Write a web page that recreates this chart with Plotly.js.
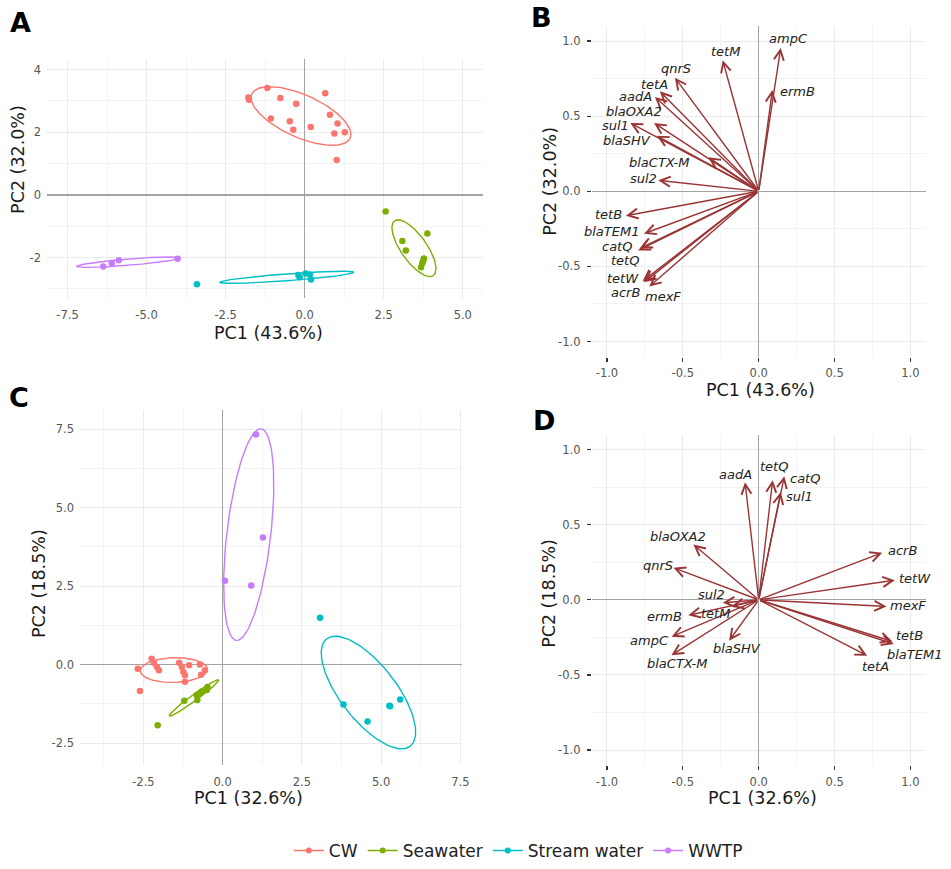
<!DOCTYPE html>
<html><head><meta charset="utf-8">
<script src="https://cdn.plot.ly/plotly-3.0.1.min.js"></script>
<style>html,body{margin:0;padding:0;background:#fff}#chart{width:951px;height:869px}</style>
</head><body><div id="chart"></div>
<script>
// ---------------- data ----------------
const GROUPS = ['CW', 'Seawater', 'Stream water', 'WWTP'];
const GROUP_COLORS = ['#F8766D', '#7CAE00', '#00BFC4', '#C77CFF'];
const ELLIPSE_LEVEL = 0.68;

// Panel A: sample scores (PC1 43.6%, PC2 32.0%)
const A_CW_pc1 = [-1.78, -1.76, -1.18, -0.77, -0.27, 0.65, -1.07, -0.47, -0.36, 0.19, 0.80, 1.04, 0.94, 1.27, 1.01];
const A_CW_pc2 = [3.11, 3.04, 3.41, 3.09, 2.91, 3.24, 2.44, 2.35, 2.08, 2.17, 2.56, 2.28, 1.96, 2.00, 1.11];
const A_Sea_pc1 = [2.56, 3.88, 3.09, 3.20, 3.77, 3.75, 3.72, 3.68];
const A_Sea_pc2 = [-0.53, -1.23, -1.47, -1.78, -2.03, -2.10, -2.18, -2.31];
const A_Stream_pc1 = [-3.41, -0.20, -0.16, 0.03, 0.16, 0.20];
const A_Stream_pc2 = [-2.85, -2.56, -2.63, -2.51, -2.54, -2.70];
const A_WWTP_pc1 = [-6.37, -6.10, -5.88, -4.02];
const A_WWTP_pc2 = [-2.29, -2.18, -2.09, -2.04];

// Panel C: sample scores (PC1 32.6%, PC2 18.5%)
const C_CW_pc1 = [-2.68, -2.24, -2.17, -2.08, -2.01, -2.61, -1.37, -1.29, -1.24, -1.19, -1.19, -1.06, -0.72, -0.56, -0.68];
const C_CW_pc2 = [-0.13, 0.19, 0.06, -0.07, -0.18, -0.84, 0.06, -0.07, -0.23, -0.34, -0.55, -0.02, 0.00, -0.18, -0.32];
const C_Sea_pc1 = [-1.21, -2.05, -0.82, -0.80, -0.66, -0.50, -0.48, -0.72];
const C_Sea_pc2 = [-1.15, -1.93, -0.97, -1.13, -0.86, -0.81, -0.71, -0.92];
const C_Stream_pc1 = [3.07, 3.81, 4.57, 5.26, 5.28, 5.60];
const C_Stream_pc2 = [1.49, -1.27, -1.81, -1.31, -1.33, -1.11];
const C_WWTP_pc1 = [0.07, 0.90, 1.27, 1.05];
const C_WWTP_pc2 = [2.67, 2.52, 4.05, 7.33];

// Gene loadings
const GENES = ['ampC', 'ermB', 'tetM', 'qnrS', 'tetA', 'aadA', 'blaOXA2', 'sul1', 'blaSHV',
  'blaCTX-M', 'sul2', 'tetB', 'blaTEM1', 'catQ', 'tetQ', 'tetW', 'acrB', 'mexF'];
const B_pc1 = [0.145, 0.090, -0.237, -0.552, -0.651, -0.684, -0.690, -0.846, -0.672,
  -0.332, -0.662, -0.875, -0.756, -0.782, -0.794, -0.765, -0.756, -0.721];
const B_pc2 = [0.954, 0.674, 0.872, 0.756, 0.665, 0.628, 0.455, 0.455, 0.370,
  0.227, 0.073, -0.163, -0.282, -0.379, -0.394, -0.599, -0.606, -0.634];
const B_labelX = [0.195, 0.257, -0.218, -0.545, -0.690, -0.815, -0.820, -0.947, -0.866,
  -0.655, -0.761, -0.991, -0.969, -0.932, -0.881, -0.892, -0.875, -0.633];
const B_labelY = [1.020, 0.661, 0.928, 0.816, 0.714, 0.633, 0.532, 0.438, 0.337,
  0.194, 0.084, -0.154, -0.268, -0.365, -0.458, -0.578, -0.676, -0.700];

const D_pc1 = [-0.574, -0.464, -0.178, -0.562, 0.715, -0.090, -0.430, 0.145, -0.195,
  -0.575, -0.237, 0.882, 0.890, 0.169, 0.092, 0.897, 0.814, 0.842];
const D_pc2 = [-0.245, -0.103, -0.045, 0.213, -0.372, 0.783, 0.369, 0.717, -0.272,
  -0.369, -0.020, -0.277, -0.294, 0.823, 0.796, 0.131, 0.314, -0.044];
const D_labelX = [-0.723, -0.622, -0.288, -0.662, 0.768, -0.152, -0.534, 0.272, -0.141,
  -0.541, -0.314, 0.997, 1.030, 0.305, 0.103, 1.030, 0.947, 0.986];
const D_labelY = [-0.271, -0.110, -0.088, 0.229, -0.445, 0.837, 0.423, 0.687, -0.326,
  -0.425, 0.036, -0.240, -0.361, 0.808, 0.890, 0.141, 0.330, -0.040];

// Tick labels
const A_xTicks = [-7.5, -5, -2.5, 0, 2.5, 5];
const A_xTickText = ['-7.5', '-5.0', '-2.5', '0.0', '2.5', '5.0'];
const A_yTicks = [-2, 0, 2, 4];
const A_yTickText = ['-2', '0', '2', '4'];
const C_xTicks = [-2.5, 0, 2.5, 5, 7.5];
const C_xTickText = ['-2.5', '0.0', '2.5', '5.0', '7.5'];
const C_yTicks = [-2.5, 0, 2.5, 5, 7.5];
const C_yTickText = ['-2.5', '0.0', '2.5', '5.0', '7.5'];
const BD_ticks = [-1, -0.5, 0, 0.5, 1];
const BD_tickText = ['-1.0', '-0.5', '0.0', '0.5', '1.0'];

// ---------------- helpers ----------------
const W = 951, H = 869;
const fx = p => p / W;
const fy = p => 1 - p / H;
const FONT = 'DejaVu Sans, Verdana, sans-serif';
const ARROW_COLOR = '#9A3434';

function ellipsePath(xs, ys, level) {
  const n = xs.length;
  const mx = xs.reduce((a, b) => a + b, 0) / n;
  const my = ys.reduce((a, b) => a + b, 0) / n;
  let sxx = 0, syy = 0, sxy = 0;
  for (let i = 0; i < n; i++) {
    sxx += (xs[i] - mx) ** 2; syy += (ys[i] - my) ** 2; sxy += (xs[i] - mx) * (ys[i] - my);
  }
  sxx /= (n - 1); syy /= (n - 1); sxy /= (n - 1);
  const tr = sxx + syy, det = sxx * syy - sxy * sxy;
  const disc = Math.sqrt(Math.max(tr * tr / 4 - det, 0));
  const l1 = tr / 2 + disc, l2 = Math.max(tr / 2 - disc, 0);
  const th = 0.5 * Math.atan2(2 * sxy, sxx - syy);
  const k = Math.sqrt(-2 * Math.log(1 - level));
  const ex = [], ey = [];
  for (let i = 0; i <= 120; i++) {
    const t = 2 * Math.PI * i / 120;
    const u = k * Math.sqrt(l1) * Math.cos(t), v = k * Math.sqrt(l2) * Math.sin(t);
    ex.push(mx + u * Math.cos(th) - v * Math.sin(th));
    ey.push(my + u * Math.sin(th) + v * Math.cos(th));
  }
  return [ex, ey];
}

function minorFrom(ticks, range) {
  const step = ticks[1] - ticks[0];
  const out = [];
  for (let v = ticks[0] - step / 2; v <= range[1]; v += step) if (v >= range[0]) out.push(v);
  return out;
}

const traces = [];
function scorePanel(xa, ya, xsList, ysList) {
  for (let g = 0; g < GROUPS.length; g++) {
    const [ex, ey] = ellipsePath(xsList[g], ysList[g], ELLIPSE_LEVEL);
    traces.push({ type: 'scatter', mode: 'lines', x: ex, y: ey, xaxis: xa, yaxis: ya,
      line: { color: GROUP_COLORS[g], width: 1.4 }, showlegend: false, hoverinfo: 'skip' });
  }
  for (let g = 0; g < GROUPS.length; g++) {
    traces.push({ type: 'scatter', mode: 'markers', x: xsList[g], y: ysList[g], xaxis: xa, yaxis: ya,
      name: GROUPS[g], marker: { color: GROUP_COLORS[g], size: 6.5 }, showlegend: false });
  }
}
scorePanel('x', 'y', [A_CW_pc1, A_Sea_pc1, A_Stream_pc1, A_WWTP_pc1], [A_CW_pc2, A_Sea_pc2, A_Stream_pc2, A_WWTP_pc2]);
scorePanel('x3', 'y3', [C_CW_pc1, C_Sea_pc1, C_Stream_pc1, C_WWTP_pc1], [C_CW_pc2, C_Sea_pc2, C_Stream_pc2, C_WWTP_pc2]);

// legend entries
for (let g = 0; g < GROUPS.length; g++) {
  traces.push({ type: 'scatter', mode: 'lines+markers', x: [null], y: [null], xaxis: 'x', yaxis: 'y',
    name: GROUPS[g], line: { color: GROUP_COLORS[g], width: 1.4 }, marker: { color: GROUP_COLORS[g], size: 6 },
    showlegend: true });
}

const annotations = [];
function loadingPanel(xa, ya, pc1, pc2, lx, ly) {
  for (let i = 0; i < GENES.length; i++) {
    annotations.push({ xref: xa, yref: ya, axref: xa, ayref: ya, x: pc1[i], y: pc2[i], ax: 0, ay: 0,
      text: '', font: { size: 1 }, showarrow: true, arrowhead: 5, arrowsize: 1.4, arrowwidth: 1.4,
      arrowcolor: ARROW_COLOR, standoff: 0, startstandoff: 0 });
  }
  for (let i = 0; i < GENES.length; i++) {
    annotations.push({ xref: xa, yref: ya, x: lx[i], y: ly[i], text: '<i>' + GENES[i] + '</i>',
      showarrow: false, font: { family: FONT, size: 13, color: '#222222' } });
  }
}
loadingPanel('x2', 'y2', B_pc1, B_pc2, B_labelX, B_labelY);
loadingPanel('x4', 'y4', D_pc1, D_pc2, D_labelX, D_labelY);

function paperText(text, xpx, ypx, size, angle, bold) {
  annotations.push({ xref: 'paper', yref: 'paper', x: fx(xpx), y: fy(ypx), xanchor: 'center', yanchor: 'middle',
    text: bold ? '<b>' + text + '</b>' : text, textangle: angle || 0, showarrow: false,
    font: { family: FONT, size: size, color: bold ? '#000' : '#1a1a1a' } });
}
paperText('A', 20, 23, 27, 0, true);
paperText('B', 541, 18, 27, 0, true);
paperText('C', 19, 400, 27, 0, true);
paperText('D', 544, 423, 27, 0, true);
paperText('PC1 (43.6%)', 268, 335, 17.5);
paperText('PC2 (32.0%)', 18, 161, 17.5, -90);
paperText('PC1 (43.6%)', 760, 393, 17.5);
paperText('PC2 (32.0%)', 550, 183, 17.5, -90);
paperText('PC1 (32.6%)', 249, 804, 17.5);
paperText('PC2 (18.5%)', 39, 588, 17.5, -90);
paperText('PC1 (32.6%)', 762, 804, 17.5);
paperText('PC2 (18.5%)', 549, 598, 17.5, -90);

const TICKFONT = { family: FONT, size: 11.5, color: '#555555' };
function axis(domain, range, tickvals, ticktext, withTicks, standoff) {
  return {
    domain: domain, range: range, tickmode: 'array', tickvals: tickvals, ticktext: ticktext,
    showgrid: true, gridcolor: '#EBEBEB', gridwidth: 1,
    zeroline: true, zerolinecolor: '#A3A3A3', zerolinewidth: 1.3, showline: false,
    ticks: withTicks ? 'outside' : '', ticklen: 4, tickwidth: 1.3, tickcolor: '#333333',
    tickfont: TICKFONT, ticklabelstandoff: standoff,
    minor: { tickmode: 'array', tickvals: minorFrom(tickvals, range), showgrid: true, gridcolor: '#F3F3F3', gridwidth: 1, ticks: '' },
    fixedrange: true, automargin: false
  };
}
const A_xr = [-8.15, 5.64], A_yr = [-3.29, 4.35];
const C_xr = [-4.5, 7.54], C_yr = [-3.19, 8.11];
const BD_r = [-1.1, 1.1];

const layout = {
  width: W, height: H, margin: { l: 0, r: 0, t: 0, b: 0 },
  paper_bgcolor: '#fff', plot_bgcolor: 'rgba(0,0,0,0)',
  font: { family: FONT },
  xaxis: Object.assign(axis([fx(47), fx(483)], A_xr, A_xTicks, A_xTickText, false, 9), { anchor: 'y' }),
  yaxis: Object.assign(axis([fy(300), fy(59)], A_yr, A_yTicks, A_yTickText, false, 5), { anchor: 'x' }),
  xaxis2: Object.assign(axis([fx(591.8), fx(925.6)], BD_r, BD_ticks, BD_tickText, true, 2), { anchor: 'y2' }),
  yaxis2: Object.assign(axis([fy(359), fy(26.2)], BD_r, BD_ticks, BD_tickText, true, 4), { anchor: 'x2' }),
  xaxis3: Object.assign(axis([fx(80), fx(461.7)], C_xr, C_xTicks, C_xTickText, false, 9), { anchor: 'y3' }),
  yaxis3: Object.assign(axis([fy(770), fy(413)], C_yr, C_yTicks, C_yTickText, false, 5), { anchor: 'x3' }),
  xaxis4: Object.assign(axis([fx(591.8), fx(925.6)], BD_r, BD_ticks, BD_tickText, true, 2), { anchor: 'y4' }),
  yaxis4: Object.assign(axis([fy(770.4), fy(437.6)], BD_r, BD_ticks, BD_tickText, true, 4), { anchor: 'x4' }),
  showlegend: true,
  legend: { orientation: 'h', x: 0.545, xanchor: 'center', y: fy(857), yanchor: 'middle',
    font: { family: FONT, size: 17, color: '#222222' }, bgcolor: 'rgba(0,0,0,0)' },
  annotations: annotations
};

Plotly.newPlot('chart', traces, layout, { displayModeBar: false, staticPlot: true });
</script></body></html>
